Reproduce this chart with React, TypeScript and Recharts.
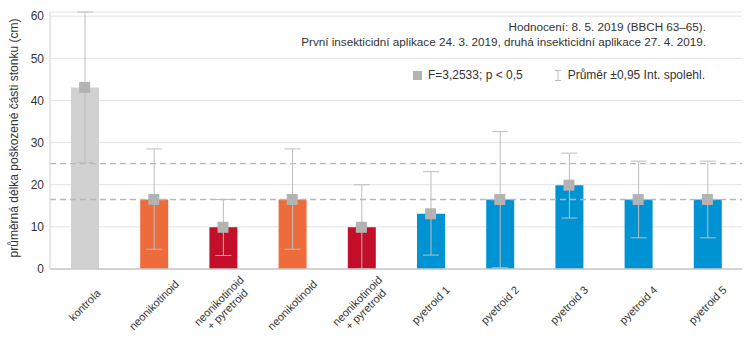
import { ComposedChart, Bar, Line, XAxis, YAxis, CartesianGrid, ReferenceLine, ErrorBar, Cell, Label } from 'recharts';

const categories = [
  'kontrola',
  'neonikotinoid',
  'neonikotinoid\n+ pyretroid',
  'neonikotinoid',
  'neonikotinoid\n+ pyretroid',
  'pyetroid 1',
  'pyetroid 2',
  'pyetroid 3',
  'pyetroid 4',
  'pyetroid 5',
];
const groups = ['kontrola', 'neo', 'combo', 'neo', 'combo', 'pyr', 'pyr', 'pyr', 'pyr', 'pyr'];
const means = [43.1, 16.5, 9.9, 16.5, 9.9, 13.1, 16.5, 19.9, 16.5, 16.5];
const lows = [25.3, 4.7, 3.2, 4.7, 0, 3.3, 0.3, 12.1, 7.4, 7.4];
const highs = [61.0, 28.5, 16.5, 28.5, 20.0, 23.1, 32.6, 27.5, 25.6, 25.6];
const refLines = [25, 16.5];
const yTicks = [0, 10, 20, 30, 40, 50, 60];

const groupColors: Record<string, string> = {
  kontrola: '#d1d1d1',
  neo: '#ee6b3b',
  combo: '#c40f2b',
  pyr: '#0093d3',
};

const FONT = '"Liberation Sans", Arial, sans-serif';

const data = categories.map((name, i) => ({
  name,
  group: groups[i],
  mean: means[i],
  // ErrorBar wants [minus, plus] relative to the mean
  err: [means[i] - lows[i], highs[i] - means[i]],
}));

// labels are centred under the bar and turned 45 degrees
const XTick = ({ x, y, payload }: any) => {
  const lines = String(payload.value).split('\n');
  const cy = y + 36;
  return (
    <g>
      {lines.map((line, i) => (
        <text
          key={i}
          x={x}
          y={cy + (i - (lines.length - 1) / 2) * 12}
          transform={`rotate(-45, ${x}, ${cy})`}
          textAnchor="middle"
          dominantBaseline="central"
          fontSize={11}
          fontFamily={FONT}
          fill="#333"
        >
          {line}
        </text>
      ))}
    </g>
  );
};

const SquareDot = ({ cx, cy, index }: any) => {
  if (cx == null || cy == null) return null;
  return <rect key={index} x={cx - 5.5} y={cy - 5.5} width={11} height={11} fill="#b3b3b3" />;
};

export default function App() {
  return (
    <div style={{ position: 'absolute', left: 0, top: 0, width: 750, height: 342, background: '#fff', fontFamily: FONT }}>
      <ComposedChart
        width={750}
        height={342}
        data={data}
        margin={{ top: 12, right: 8, left: 0, bottom: 0 }}
        barCategoryGap={0}
      >
        <CartesianGrid vertical={false} stroke="#e3e3e3" />
        <XAxis
          dataKey="name"
          interval={0}
          tickLine={false}
          tickSize={0}
          tickMargin={0}
          axisLine={{ stroke: '#c8c8c8', strokeWidth: 1.5 }}
          height={73}
          tick={<XTick />}
        />
        <YAxis
          domain={[0, 60]}
          ticks={yTicks}
          width={50}
          tickLine={false}
          tickSize={0}
          tickMargin={6}
          axisLine={{ stroke: '#d0d0d0' }}
          tick={{ fontSize: 12, fill: '#333', fontFamily: FONT }}
        >
          <Label
            content={() => (
              <text
                transform="translate(14,138) rotate(-90)"
                textAnchor="middle"
                dominantBaseline="central"
                fontSize={12}
                fontFamily={FONT}
                fill="#333"
              >
                průměrná délka poškozené části stonku (cm)
              </text>
            )}
          />
        </YAxis>
        {refLines.map((v) => (
          <ReferenceLine key={v} y={v} stroke="#b8b8b8" strokeWidth={1.3} strokeDasharray="6 4" />
        ))}
        <Bar dataKey="mean" barSize={28} isAnimationActive={false}>
          {data.map((d, i) => (
            <Cell key={i} fill={groupColors[d.group]} />
          ))}
          <ErrorBar dataKey="err" width={8} stroke="#bdbdbd" strokeWidth={1} direction="y" />
        </Bar>
        <Line dataKey="mean" stroke="none" dot={<SquareDot />} activeDot={false} isAnimationActive={false} />
      </ComposedChart>

      <div style={{ position: 'absolute', right: 44, top: 19, textAlign: 'right', fontSize: 11.7, lineHeight: '15px', color: '#333' }}>
        <div>Hodnocení: 8. 5. 2019 (BBCH 63–65).</div>
        <div>První insekticidní aplikace 24. 3. 2019, druhá insekticidní aplikace 27. 4. 2019.</div>
      </div>

      <div style={{ position: 'absolute', right: 45, top: 68, display: 'flex', alignItems: 'center', fontSize: 12, color: '#333', lineHeight: '14px' }}>
        <span style={{ display: 'inline-block', width: 9, height: 9, background: '#b3b3b3', marginRight: 6 }} />
        <span>F=3,2533; p &lt; 0,5</span>
        <svg width={8} height={11} style={{ marginLeft: 31, marginRight: 6 }}>
          <path d="M1 0.5H7M4 0.5V10.5M1 10.5H7" stroke="#bdbdbd" strokeWidth={1} fill="none" />
        </svg>
        <span>Průměr ±0,95 Int. spolehl.</span>
      </div>
    </div>
  );
}
